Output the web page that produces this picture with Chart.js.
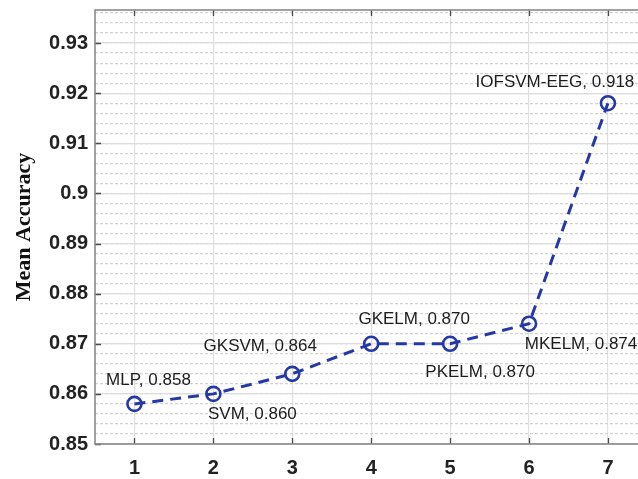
<!DOCTYPE html>
<html>
<head>
<meta charset="utf-8">
<script src="https://cdn.jsdelivr.net/npm/chart.js@4/dist/chart.umd.min.js"></script>
<style>
  html, body { margin: 0; padding: 0; background: #fff; overflow: hidden; }
  #wrap { width: 638px; height: 479px; overflow: hidden; position: relative; }
  canvas { position: absolute; left: 0; top: 0; }
</style>
</head>
<body>
<div id="wrap"><canvas id="c" width="657" height="479"></canvas></div>
<script>
// ---- data ----
const xValues = [1, 2, 3, 4, 5, 6, 7];
const accuracy = [0.858, 0.860, 0.864, 0.870, 0.870, 0.874, 0.918];
const methodNames = ['MLP', 'SVM', 'GKSVM', 'GKELM', 'PKELM', 'MKELM', 'IOFSVM-EEG'];
const xTicks = [1, 2, 3, 4, 5, 6, 7];
const yTicks = [0.85, 0.86, 0.87, 0.88, 0.89, 0.90, 0.91, 0.92, 0.93];
const yTitle = 'Mean Accuracy';

// label offsets (styling) relative to each point, px
const labelOffsets = [[14, -24], [39, 20], [-32, -28], [43, -24], [30, 29], [52, 21], [-53, -21]];

const Y_MIN = 0.85, Y_MAX = 0.9366, X_MIN = 0.5, X_MAX = 7.5;
const minorTicks = [];
for (let k = 0; k <= Math.round((Y_MAX - Y_MIN) / 0.002); k++) minorTicks.push(+(Y_MIN + k * 0.002).toFixed(4));

const lineColor = 'rgb(36,56,168)';

const framePlugin = {
  id: 'frame',
  afterDatasetsDraw(chart) {
    const { ctx, chartArea: a, scales } = chart;
    ctx.save();
    // inward tick marks
    ctx.strokeStyle = '#4a4a4a';
    ctx.lineWidth = 1.3;
    ctx.beginPath();
    yTicks.forEach(v => {
      const y = Math.round(scales.y.getPixelForValue(v)) + 0.5;
      ctx.moveTo(a.left, y); ctx.lineTo(a.left + 6, y);
    });
    xTicks.forEach(v => {
      const x = Math.round(scales.x.getPixelForValue(v)) + 0.5;
      ctx.moveTo(x, a.bottom); ctx.lineTo(x, a.bottom - 6);
      ctx.moveTo(x, a.top); ctx.lineTo(x, a.top + 6);
    });
    ctx.stroke();
    // box
    ctx.strokeStyle = '#8a8a8a';
    ctx.lineWidth = 1.6;
    ctx.strokeRect(a.left, a.top, a.right - a.left, a.bottom - a.top);
    // point labels
    const meta = chart.getDatasetMeta(0);
    ctx.fillStyle = '#1c1c1c';
    ctx.font = '17px "Liberation Sans", Arial, sans-serif';
    ctx.textAlign = 'center';
    ctx.textBaseline = 'middle';
    meta.data.forEach((pt, i) => {
      const txt = methodNames[i] + ', ' + accuracy[i].toFixed(3);
      ctx.fillText(txt, pt.x + labelOffsets[i][0], pt.y + labelOffsets[i][1]);
    });
    ctx.restore();
  }
};

new Chart(document.getElementById('c'), {
  type: 'line',
  data: {
    datasets: [{
      data: xValues.map((x, i) => ({ x: x, y: accuracy[i] })),
      borderColor: lineColor,
      borderWidth: 3,
      borderDash: [11, 7],
      pointStyle: 'circle',
      pointRadius: 7,
      pointBorderWidth: 2.6,
      pointBorderColor: lineColor,
      pointBackgroundColor: 'rgba(0,0,0,0)',
      tension: 0,
      fill: false
    }]
  },
  options: {
    responsive: false,
    devicePixelRatio: 1,
    animation: false,
    events: [],
    layout: { padding: { top: 10, right: 0, left: 0, bottom: 0 } },
    plugins: { legend: { display: false }, tooltip: { enabled: false }, title: { display: false } },
    scales: {
      x: {
        type: 'linear',
        min: X_MIN, max: X_MAX,
        afterBuildTicks: s => { s.ticks = xTicks.map(v => ({ value: v })); },
        afterFit: s => { s.height = 35; s.paddingLeft = 0; s.paddingRight = 0; },
        grid: { color: '#e0e0e0', lineWidth: 1.2, drawTicks: false },
        border: { display: false },
        ticks: {
          padding: 12,
          color: '#222',
          font: { family: '"Liberation Sans", Arial, sans-serif', size: 20, weight: 'bold' },
          callback: v => String(v)
        }
      },
      yMinor: {
        type: 'linear',
        position: 'left',
        min: Y_MIN, max: Y_MAX,
        afterBuildTicks: s => { s.ticks = minorTicks.map(v => ({ value: v })); },
        afterFit: s => { s.width = 0; s.paddingTop = 0; s.paddingBottom = 0; },
        grid: { color: '#d2d2d2', lineWidth: 1.2, drawTicks: false },
        border: { display: false, dash: [3, 2] },
        ticks: { display: false }
      },
      y: {
        type: 'linear',
        position: 'left',
        min: Y_MIN, max: Y_MAX,
        afterBuildTicks: s => { s.ticks = yTicks.map(v => ({ value: v })); },
        afterFit: s => { s.width = 95; s.paddingTop = 0; s.paddingBottom = 0; },
        grid: { color: '#dcdcdc', lineWidth: 1.3, drawTicks: false },
        border: { display: false },
        title: {
          display: true,
          text: yTitle,
          color: '#111',
          font: { family: '"Liberation Serif", "Times New Roman", serif', size: 22, weight: 'bold' },
          padding: { top: 11, bottom: 0 }
        },
        ticks: {
          padding: 7,
          color: '#222',
          font: { family: '"Liberation Sans", Arial, sans-serif', size: 20, weight: 'bold' },
          callback: v => String(+v.toFixed(3))
        }
      }
    }
  },
  plugins: [framePlugin]
});
</script>
</body>
</html>
